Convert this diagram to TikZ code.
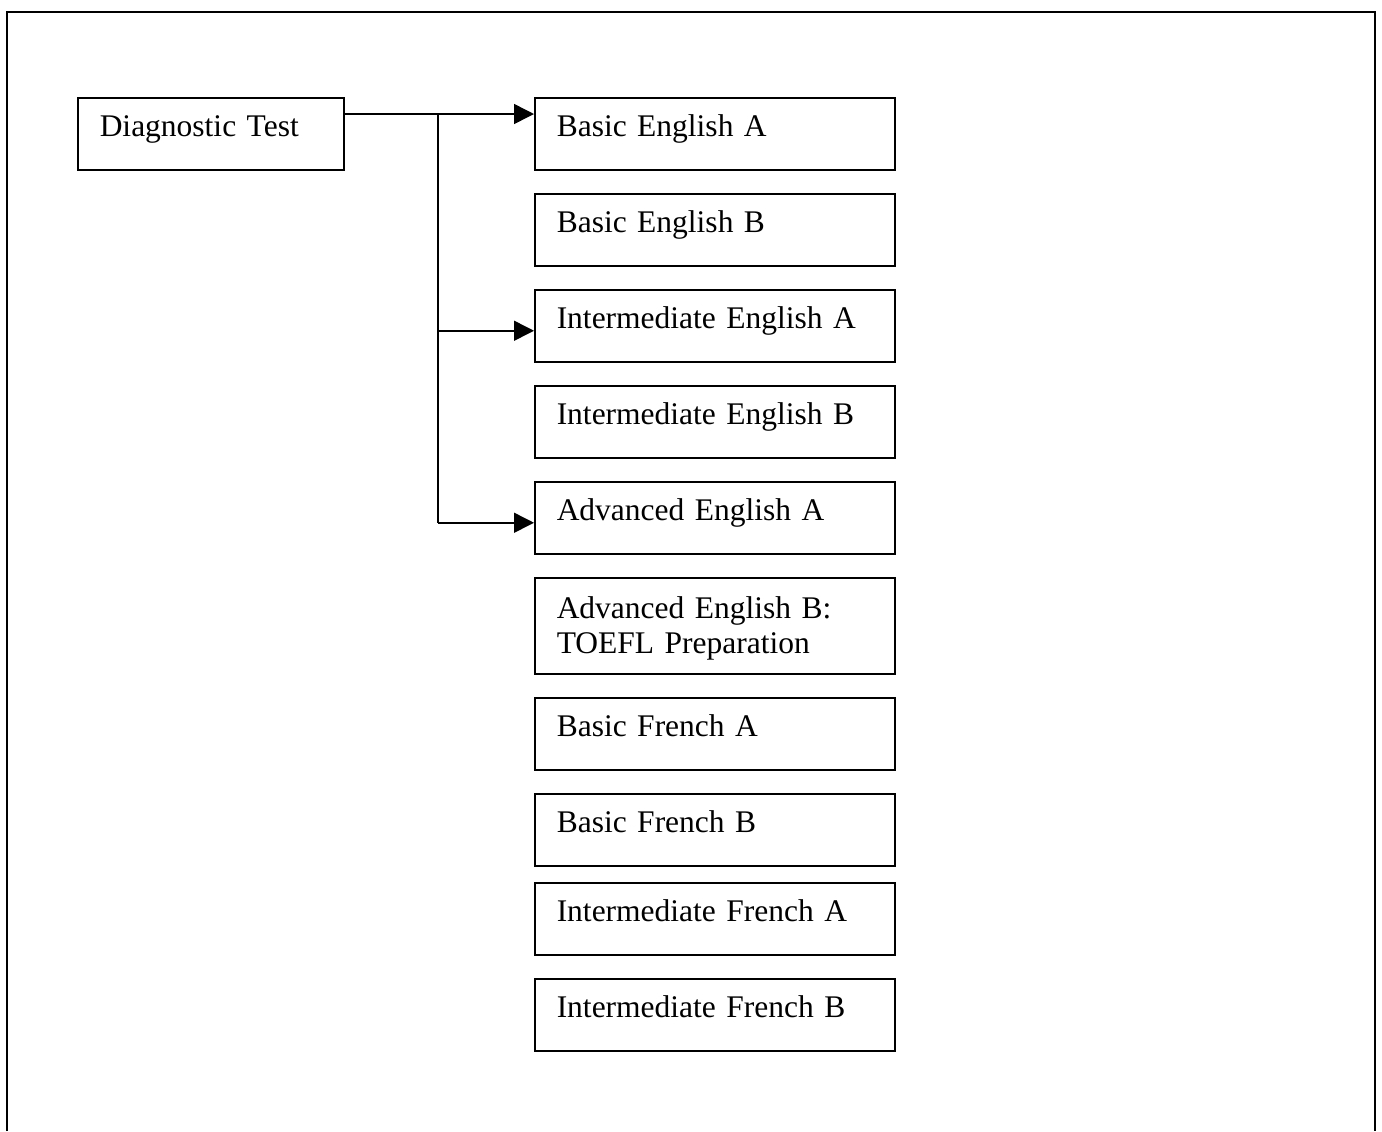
\documentclass[tikz,border=0pt]{standalone}
\usepackage{fontspec}
\setmainfont{Liberation Serif}
\usetikzlibrary{arrows.meta}
\tikzset{
    course/.style={draw, line width=0.75pt, anchor=north west, align=left,
        text width=158pt, inner xsep=11pt, inner ysep=0pt,
        text height=19.5pt, text depth=16.5pt,
        font=\fontsize{15.75}{17.5}\selectfont},
}
\begin{document}
\begin{tikzpicture}[x=0.5pt, y=-0.5pt, >={Triangle[length=10pt,width=10pt]}, line width=0.75pt]
        \useasboundingbox (0,0) rectangle (1382,1131);
        \draw[line width=1pt] (6.5,1131) -- (6.5,12) -- (1375,12) -- (1375,1131);
        % test de depart
        \node[course, text width=111pt] (diag) at (77,97) {Diagnostic Test};
        % cours
        \node[course] (engA) at (534,97) {Basic English A};
        \node[course] (engB) at (534,193) {Basic English B};
        \node[course] (intEngA) at (534,289) {Intermediate English A};
        \node[course] (intEngB) at (534,385) {Intermediate English B};
        \node[course] (advEngA) at (534,481) {Advanced English A};
        \node[course, text height=20.5pt, text depth=27.5pt] (advEngB) at (534,577) {Advanced English B:\\TOEFL Preparation};
        \node[course] (freA) at (534,697) {Basic French A};
        \node[course] (freB) at (534,793) {Basic French B};
        \node[course] (intFreA) at (534,882) {Intermediate French A};
        \node[course] (intFreB) at (534,978) {Intermediate French B};
        % fleches
        \coordinate (fork) at (438,114);
        \draw[->] (diag.east |- fork) -- (engA.west |- fork);
        \draw (fork) -- (fork |- advEngA.west) -- ++(0,5);
        \draw[->] (fork |- intEngA.west) ++(0,5) -- ([yshift=-2.5pt]intEngA.west);
        \draw[->] (fork |- advEngA.west) ++(0,5) -- ([yshift=-2.5pt]advEngA.west);
\end{tikzpicture}
\end{document}
